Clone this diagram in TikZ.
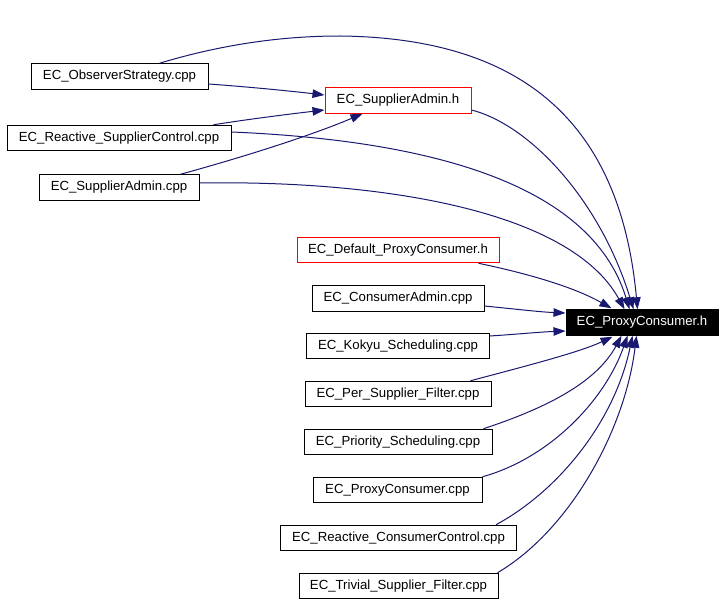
\documentclass[tikz,border=0pt]{standalone}
\usepackage{fontspec}
\setmainfont{Liberation Sans}
\usetikzlibrary{arrows.meta,calc}
\definecolor{edgeblue}{HTML}{191970}
\begin{document}
\begin{tikzpicture}[x=1pt,y=-1pt,
  filebox/.style={draw=black, line width=1pt, fill=white, minimum height=25.5pt, inner sep=0pt, font=\fontsize{13.2}{15}\selectfont},
  redbox/.style={filebox, draw=red},
  mainbox/.style={filebox, draw=black, fill=black, text=white},
  dep/.style={draw=edgeblue, line width=1pt, -{Triangle[length=12pt,width=8.5pt]}}]
\useasboundingbox[fill=white] (0,0) rectangle (725,604);
% nodes
\node[filebox, minimum width=177pt] (obs) at (119.5,76.5) {EC\_ObserverStrategy.cpp};
\node[redbox,  minimum width=146pt] (sah) at (398,100.5) {EC\_SupplierAdmin.h};
\node[filebox, minimum width=224pt] (rsc) at (119,138) {EC\_Reactive\_SupplierControl.cpp};
\node[filebox, minimum width=160pt] (sac) at (119,187.5) {EC\_SupplierAdmin.cpp};
\node[redbox,  minimum width=202pt] (dpc) at (398,250) {EC\_Default\_ProxyConsumer.h};
\node[filebox, minimum width=172pt] (cad) at (398,298.5) {EC\_ConsumerAdmin.cpp};
\node[filebox, minimum width=183pt] (kok) at (398,346) {EC\_Kokyu\_Scheduling.cpp};
\node[filebox, minimum width=186pt] (per) at (398,394) {EC\_Per\_Supplier\_Filter.cpp};
\node[filebox, minimum width=188pt] (pri) at (398,442) {EC\_Priority\_Scheduling.cpp};
\node[filebox, minimum width=169pt] (pcc) at (397.5,490) {EC\_ProxyConsumer.cpp};
\node[filebox, minimum width=236pt] (rcc) at (398.5,538) {EC\_Reactive\_ConsumerControl.cpp};
\node[filebox, minimum width=199pt] (tri) at (398.5,586) {EC\_Trivial\_Supplier\_Filter.cpp};
\node[mainbox, minimum width=152pt] (pch) at (642,322.5) {EC\_ProxyConsumer.h};
% edges to EC_SupplierAdmin.h
\draw[dep] ($(obs.east)+(0,7.5)$) .. controls (250,87) and (290,91) .. ($(sah.west)+(0,-5.5)$);
\draw[dep] ($(rsc.north east)+(-18,0)$) .. controls (250,119) and (290,114) .. ($(sah.west)+(0,9.5)$);
\draw[dep] ($(sac.north east)+(-19,0)$) .. controls (240,158) and (310,136) .. ($(sah.south west)+(38,0)$);
% edges to EC_ProxyConsumer.h
\draw[dep] ($(obs.north east)+(-49,0)$) .. controls (220,45) and (280,36) .. (340,36)
  .. controls (520,38) and (620,120) .. ($(pch.north west)+(72,0)$);
\draw[dep] ($(sah.east)+(0,9.5)$) .. controls (530,125) and (600,200) .. ($(pch.north west)+(68,0)$);
\draw[dep] ($(rsc.east)+(0,-6)$) .. controls (420,140) and (590,180) .. ($(pch.north west)+(64,0)$);
\draw[dep] ($(sac.east)+(0,-4.5)$) .. controls (380,180) and (570,210) .. ($(pch.north west)+(59,0)$);
\draw[dep] ($(dpc.south east)+(-21,0)$) .. controls (520,272) and (570,285) .. ($(pch.north west)+(46,-1)$);
\draw[dep] ($(cad.east)+(0,7.5)$) .. controls (515,309) and (540,312) .. ($(pch.west)+(0,-9.5)$);
\draw[dep] ($(kok.east)+(0,-10)$) .. controls (520,334) and (540,332) .. ($(pch.west)+(0,8.5)$);
\draw[dep] ($(per.north east)+(-21,0)$) .. controls (530,365) and (580,352) .. ($(pch.south west)+(47,1)$);
\draw[dep] ($(pri.north east)+(-9,0)$) .. controls (540,410) and (595,385) .. ($(pch.south west)+(56,0)$);
\draw[dep] (pcc.north east) .. controls (550,458) and (605,400) .. ($(pch.south west)+(62,0)$);
\draw[dep] ($(rcc.north east)+(-21,0)$) .. controls (560,490) and (615,420) .. ($(pch.south west)+(67,0)$);
\draw[dep] ($(tri.north east)+(-1,0)$) .. controls (570,530) and (625,430) .. ($(pch.south west)+(71,0)$);
\end{tikzpicture}
\end{document}
